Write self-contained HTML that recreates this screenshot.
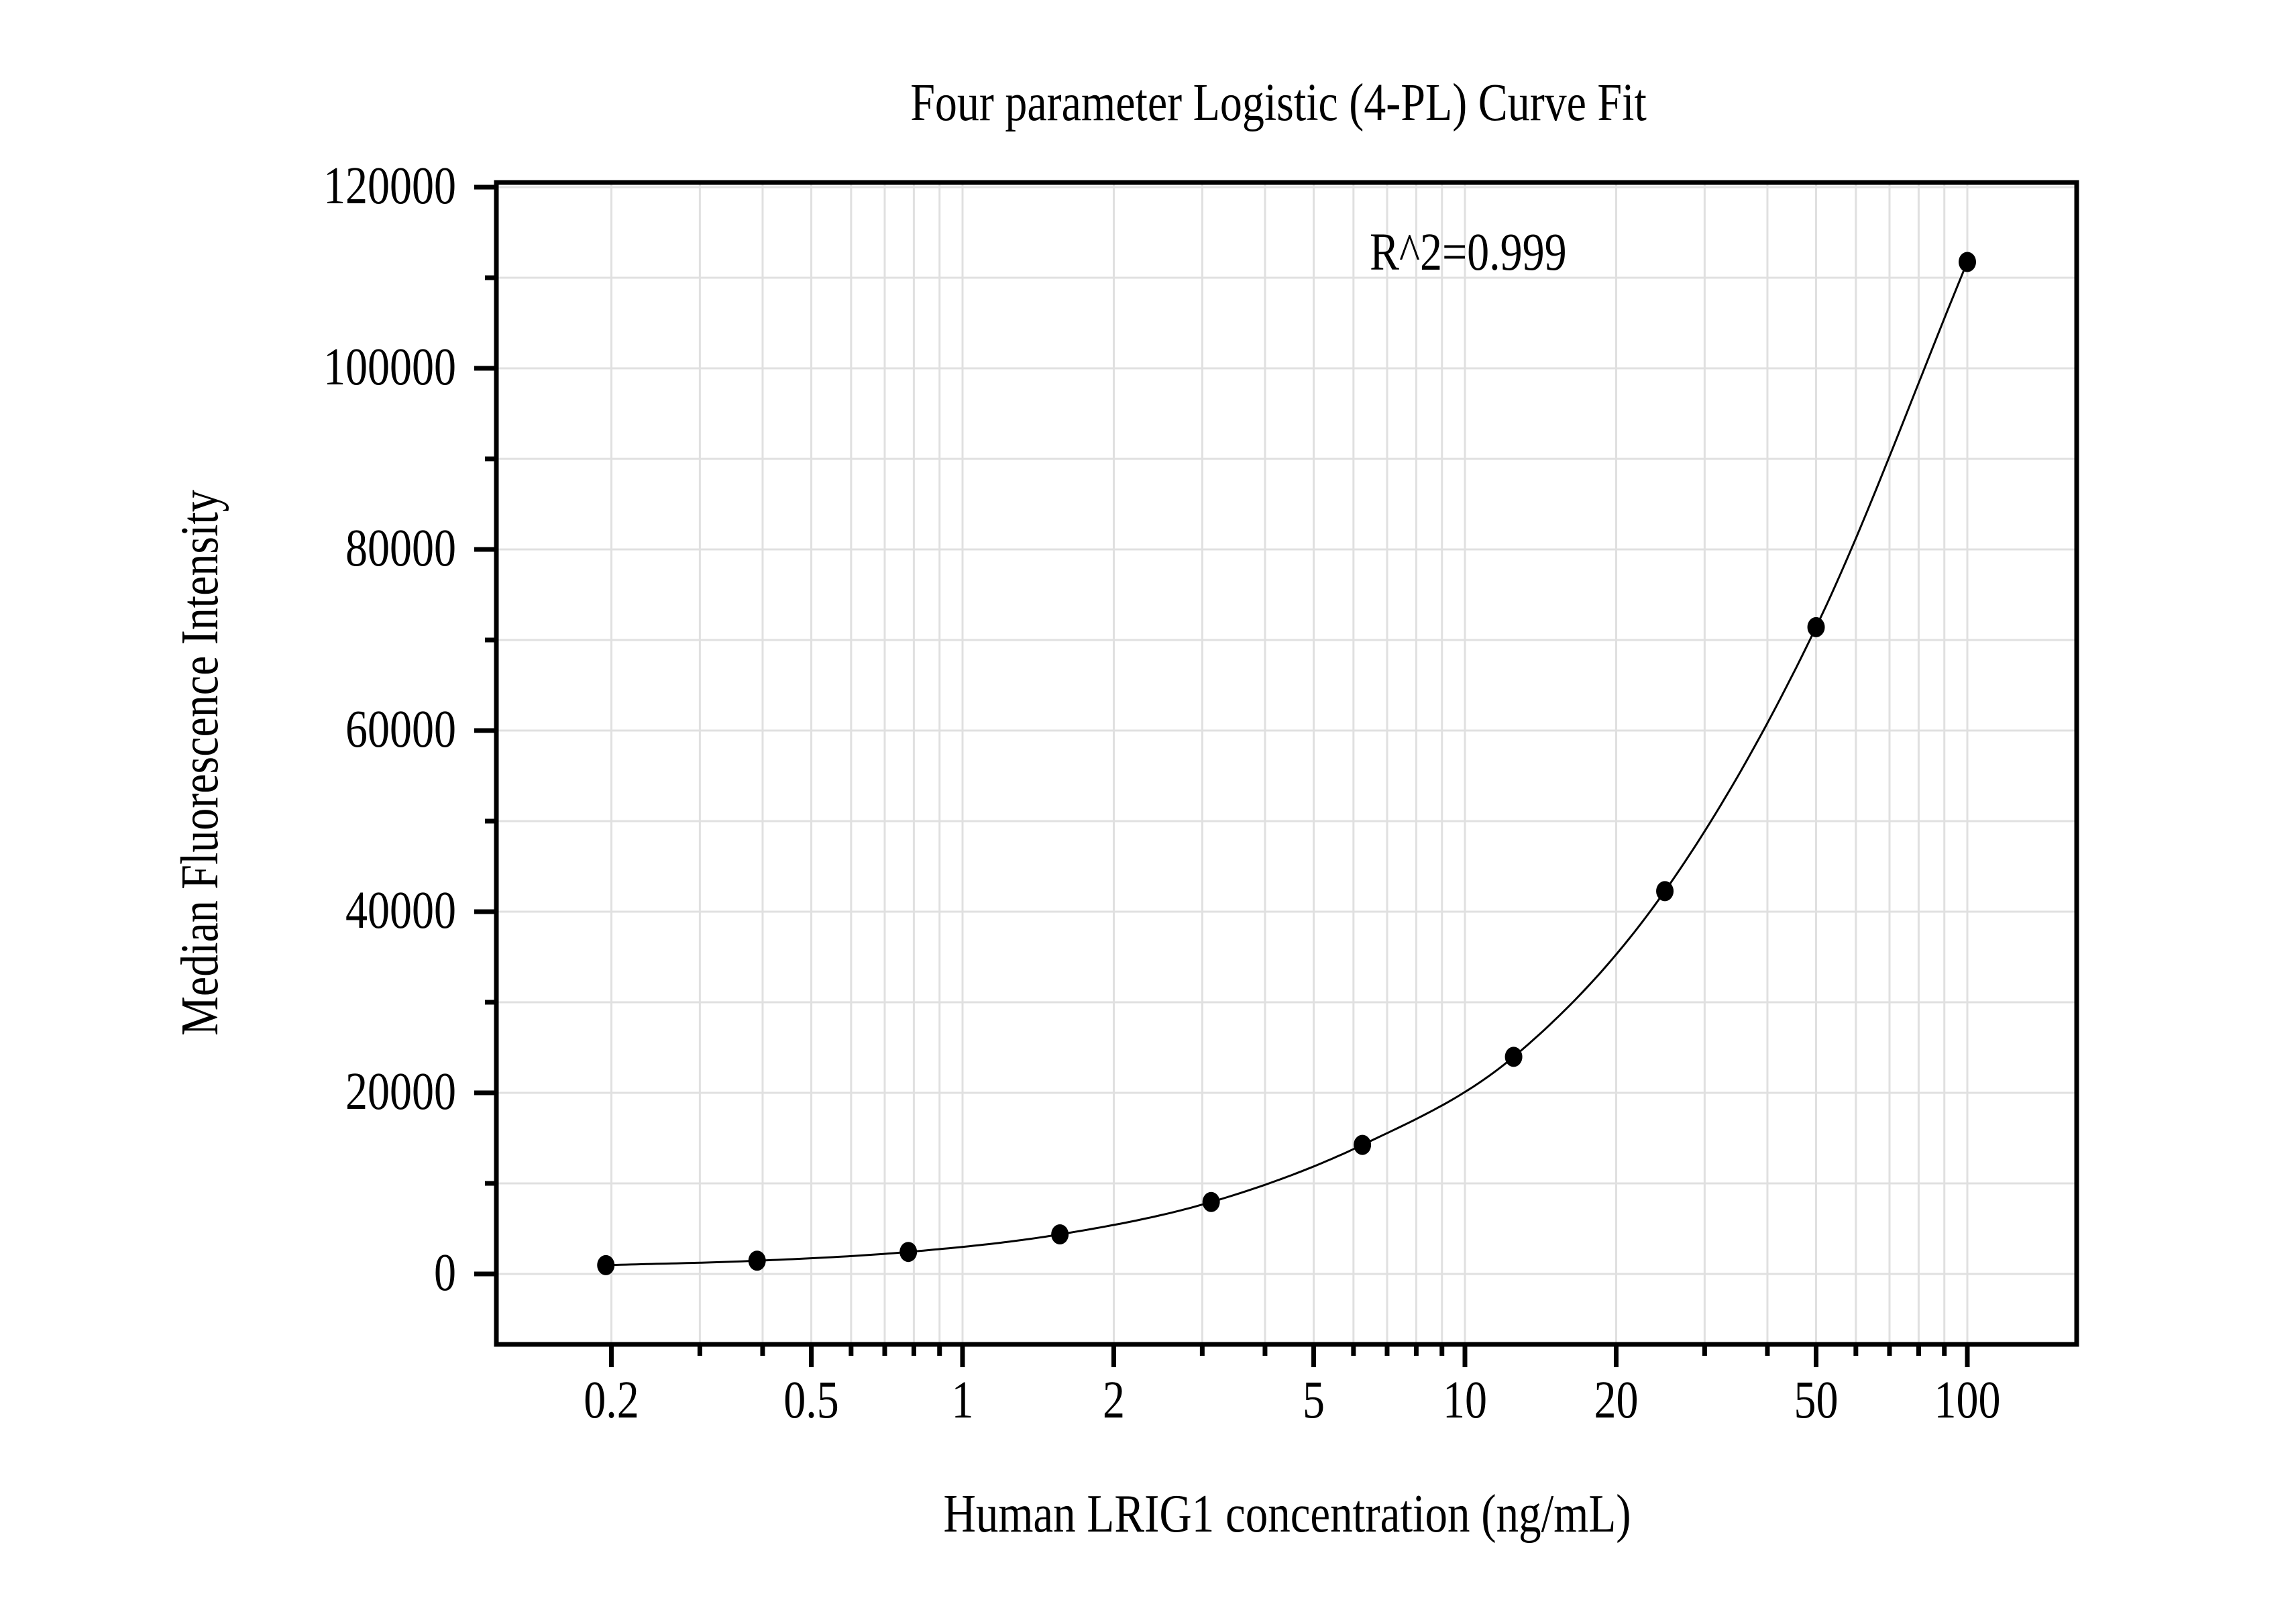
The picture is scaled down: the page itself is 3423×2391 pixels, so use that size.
<!DOCTYPE html>
<html><head><meta charset="utf-8"><style>
html,body{margin:0;padding:0;background:#fff;}
svg{display:block;}
text{font-family:"Liberation Serif","Times New Roman",serif;fill:#000;}
</style></head>
<body>
<svg id="chart" width="3423" height="2391" viewBox="0 0 3423 2391" xmlns="http://www.w3.org/2000/svg">
<rect x="0" y="0" width="3423" height="2391" fill="#fff"/>
<g id="grid"></g>
<g id="curve-g"></g>
<g id="points"></g>
<rect x="740" y="272" width="2356" height="1732" fill="none" stroke="#000" stroke-width="7"/>
<g id="ticks"></g>
<text x="0" y="0" font-size="66" text-anchor="middle" transform="translate(1906,179) scale(1,1.2)">Four parameter Logistic (4-PL) Curve Fit</text>
<text x="0" y="0" font-size="66" transform="translate(2042,402) scale(1,1.2)">R^2=0.999</text>
<text x="0" y="0" font-size="67" text-anchor="middle" transform="translate(1919,2283) scale(1,1.2)">Human LRIG1 concentration (ng/mL)</text>
<text x="0" y="0" font-size="66" text-anchor="middle" transform="translate(324,1137) rotate(-90) scale(1,1.2)">Median Fluorescence Intensity</text>
</svg>
<script>
const concentrations = [0.195, 0.39, 0.78, 1.5625, 3.125, 6.25, 12.5, 25, 50, 100];
const mfiValues = [970, 1460, 2430, 4370, 7940, 14250, 23970, 42270, 71420, 111740];
const xTickLabels = ["0.2", "0.5", "1", "2", "5", "10", "20", "50", "100"];
const xTickValues = [0.2, 0.5, 1, 2, 5, 10, 20, 50, 100];
const yTickValues = [0, 20000, 40000, 60000, 80000, 100000, 120000];

const NS = "http://www.w3.org/2000/svg";
const L = 740, R = 3096, T = 272, B = 2004;
function xs(v){ return 1435 + 749 * Math.log10(v); }
function ys(v){ return 1899 - v * 0.0135; }
function mk(tag, attrs, parent){ const e = document.createElementNS(NS, tag); for (const k in attrs) e.setAttribute(k, attrs[k]); parent.appendChild(e); return e; }

const grid = document.getElementById('grid');
const ticks = document.getElementById('ticks');
for (let d = -1; d <= 2; d++) {
  for (let m = 1; m <= 9; m++) {
    const v = m * Math.pow(10, d);
    const x = xs(v);
    if (x < L + 4 || x > R - 4) continue;
    const g = mk('line', {x1:x, y1:T, x2:x, y2:B, stroke:'#e0e0e0', 'stroke-width':3}, grid);
    
    
    const major = xTickValues.includes(+v.toPrecision(3));
    const t = mk('line', {x1:x, y1:B, x2:x, y2:B + (major ? 34 : 17), stroke:'#000', 'stroke-width':7}, ticks);
    
    
  }
}
xTickValues.forEach((v, i) => {
  const tx = mk('text', {x:0, y:0, 'font-size':66, 'text-anchor':'middle', transform:'translate(' + xs(v) + ',2113) scale(1,1.2)'}, ticks);
  tx.textContent = xTickLabels[i];
  
  
});
for (let v = 0; v <= 120000; v += 10000) {
  const y = ys(v);
  const g = mk('line', {x1:L, y1:y, x2:R, y2:y, stroke:'#e0e0e0', 'stroke-width':3}, grid);
  
  
  const major = v % 20000 === 0;
  const t = mk('line', {x1:L - (major ? 33 : 17), y1:y, x2:L, y2:y, stroke:'#000', 'stroke-width':7}, ticks);
  
  
}
yTickValues.forEach(v => {
  const tx = mk('text', {x:0, y:0, 'font-size':66, 'text-anchor':'end', transform:'translate(680,' + (ys(v) + 24) + ') scale(1,1.2)'}, ticks);
  tx.textContent = String(v);
  
  
});
(function(){
  const n = concentrations.length;
  const X = concentrations.map(c => Math.log10(c)), Y = mfiValues.slice();
  const dl = [], m = [];
  for (let i = 0; i < n - 1; i++) dl.push((Y[i+1]-Y[i])/(X[i+1]-X[i]));
  m[0] = dl[0]; m[n-1] = dl[n-2];
  for (let i = 1; i < n - 1; i++) m[i] = (dl[i-1] + dl[i]) / 2;
  let d = '';
  for (let i = 0; i < n - 1; i++) {
    const h = X[i+1] - X[i];
    for (let s = 0; s <= 30; s++) {
      const t = s / 30, t2 = t*t, t3 = t2*t;
      const yv = (2*t3-3*t2+1)*Y[i] + (t3-2*t2+t)*h*m[i] + (-2*t3+3*t2)*Y[i+1] + (t3-t2)*h*m[i+1];
      const xv = X[i] + t*h;
      const px = 1435 + 749 * xv, py = ys(yv);
      d += (d ? 'L' : 'M') + px.toFixed(1) + ',' + py.toFixed(1);
    }
  }
  const p = mk('path', {d:d, fill:'none', stroke:'#000', 'stroke-width':3}, document.getElementById('curve-g'));
  
  
})();
const pts = document.getElementById('points');
concentrations.forEach((c, i) => {
  const e = mk('ellipse', {cx:xs(c), cy:ys(mfiValues[i]), rx:13, ry:15, fill:'#000'}, pts);
  
  
});
</script>
</body></html>
